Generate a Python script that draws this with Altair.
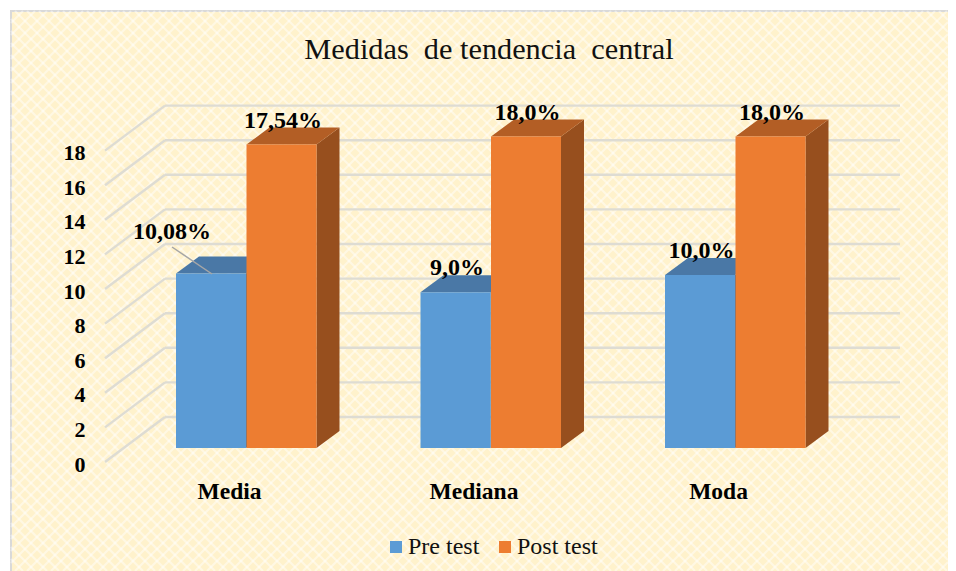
import altair as alt
import pandas as pd

# ---- values ----
categories = ["Media", "Mediana", "Moda"]
series = ["Pre test", "Post test"]
pre_test = [10.08, 9.0, 10.0]
post_test = [17.54, 18.0, 18.0]
pre_labels = ["10,08%", "9,0%", "10,0%"]
post_labels = ["17,54%", "18,0%", "18,0%"]
y_ticks = [0, 2, 4, 6, 8, 10, 12, 14, 16, 18]

# ---- layout ----
W, H = 940, 563
X0, X_STEP = 229.0, 244.5      # page px of category 0, px per category
Y0, Y_STEP = 448.0, 17.3       # page px of value 0 on the bars' front, px per unit
FONT = "Liberation Serif"
BLUE, ORANGE = "#5B9BD5", "#ED7D31"


def ux(px):
    return (px - X0) / X_STEP


def uy(py):
    return (Y0 - py) / Y_STEP


x_scale = alt.Scale(domain=[ux(8), ux(8 + W)], range=[0, W], nice=False, zero=False)
y_scale = alt.Scale(domain=[uy(8 + H), uy(8)], range=[H, 0], nice=False, zero=False)

x_axis = alt.Axis(
    values=[0, 1, 2],
    labelExpr="['" + "','".join(categories) + "'][datum.value]",
    orient="bottom",
    offset=-92,
    domain=False,
    ticks=False,
    grid=False,
    labelPadding=0,
    labelFont=FONT,
    labelFontSize=23.5,
    labelFontWeight="bold",
    labelColor="#000000",
    labelBaseline="top",
    labelAlign="center",
    zindex=1,
)
y_axis = alt.Axis(
    values=y_ticks,
    orient="left",
    offset=-77,
    domain=False,
    ticks=False,
    grid=False,
    labelPadding=0,
    labelOffset=16,
    labelFont=FONT,
    labelFontSize=22,
    labelFontWeight="bold",
    labelColor="#000000",
    zindex=1,
)


def X(f, **kw):
    return alt.X(f, scale=x_scale, title=None, axis=x_axis, **kw)


def Y(f, **kw):
    return alt.Y(f, scale=y_scale, title=None, axis=y_axis, **kw)


# 3-D projection
BAR_W = 70 / X_STEP
BAR_LEFT = {"Pre test": ux(176) - ux(229), "Post test": ux(246.5) - ux(229)}
DX, DY = 23 / X_STEP, 17 / Y_STEP           # bar depth
WALL_DX, WALL_DY = 60 / X_STEP, 45 / Y_STEP  # floor depth of the grid
WALL_BASE = uy(417)                          # value 0 on the back wall
WALL_LEFT, WALL_RIGHT = ux(165), ux(900)

# ---- tables ----
fronts, sides, tops, labels = [], [], [], []
for s, values, texts, c_top, c_side in [
    ("Pre test", pre_test, pre_labels, "#4A78A6", "#3E6C98"),
    ("Post test", post_test, post_labels, "#B35E25", "#974F1E"),
]:
    for i, v in enumerate(values):
        l = i + BAR_LEFT[s]
        r = l + BAR_W
        key = f"{s}{i}"
        fronts.append({"s": s, "l": l, "r": r, "v": v, "b": 0})
        sides.append({"k": key, "c": c_side, "x": r, "y": 0, "y2": v})
        sides.append({"k": key, "c": c_side, "x": r + DX, "y": DY, "y2": v + DY})
        tops.append({"k": key, "c": c_top, "y": v, "x": l, "x2": r})
        tops.append({"k": key, "c": c_top, "y": v + DY, "x": l + DX, "x2": r + DX})
        lx = (l + r) / 2 + 1.5 / X_STEP
        ly = v + 24 / Y_STEP
        if s == "Pre test" and i == 0:  # moved label with a leader line
            lx = ux(172)
            ly = uy(232)
        labels.append({"t": texts[i], "x": lx, "y": ly})

grid = []
for t in y_ticks:
    back = t + WALL_BASE
    grid.append({"x": WALL_LEFT, "x2": WALL_RIGHT, "y": back, "y2": back})
    grid.append({"x": WALL_LEFT - WALL_DX, "x2": WALL_LEFT, "y": back - WALL_DY, "y2": back})

# woven background texture of the chart area
lattice = []
PERIOD = 12
L, T, R, B = 11, 11, 8 + W, 8 + H
for c in range(L + T, R + B, PERIOD):
    # x + y = c
    x1 = max(L, c - B)
    x2 = min(R, c - T)
    if x2 > x1:
        lattice.append({"x": ux(x1), "y": uy(c - x1), "x2": ux(x2), "y2": uy(c - x2)})
for c in range(L - B, R - T, PERIOD):
    # x - y = c
    x1 = max(L, c + T)
    x2 = min(R, c + B)
    if x2 > x1:
        lattice.append({"x": ux(x1), "y": uy(x1 - c), "x2": ux(x2), "y2": uy(x2 - c)})

leader = [{"x": ux(172), "y": uy(247), "x2": ux(212), "y2": uy(274)}]

# ---- layers ----
panel = alt.Chart(pd.DataFrame({"a": [0]})).mark_rect(
    fill="#FFF2CC", stroke="#D9D9D9", strokeWidth=2
).encode(x=alt.value(3), x2=alt.value(W + 4), y=alt.value(3), y2=alt.value(H + 4))

tex = alt.Chart(pd.DataFrame(lattice)).mark_rule(
    color="#FFFFFF", strokeWidth=2.2, opacity=0.45
).encode(x=X("x:Q"), y=Y("y:Q"), x2="x2:Q", y2="y2:Q")

grid_l = alt.Chart(pd.DataFrame(grid)).mark_rule(
    color="#DEDCD3", strokeWidth=2.4
).encode(x=X("x:Q"), y=Y("y:Q"), x2="x2:Q", y2="y2:Q")

side_l = alt.Chart(pd.DataFrame(sides)).mark_area(interpolate="linear").encode(
    x=X("x:Q"),
    y=Y("y:Q", stack=None),
    y2="y2:Q",
    detail="k:N",
    fill=alt.Fill("c:N", scale=None),
)

top_l = alt.Chart(pd.DataFrame(tops)).mark_area(orient="horizontal", interpolate="linear").encode(
    y=Y("y:Q"),
    x=X("x:Q", stack=None),
    x2="x2:Q",
    detail="k:N",
    fill=alt.Fill("c:N", scale=None),
)

front_l = alt.Chart(pd.DataFrame(fronts)).mark_rect().encode(
    x=X("l:Q"),
    x2="r:Q",
    y=Y("b:Q"),
    y2="v:Q",
    color=alt.Color(
        "s:N",
        scale=alt.Scale(domain=series, range=[BLUE, ORANGE]),
        legend=alt.Legend(
            title=None,
            orient="none",
            legendX=376,
            legendY=527,
            direction="horizontal",
            symbolType="square",
            symbolSize=144,
            symbolStrokeWidth=0,
            labelFont=FONT,
            labelFontSize=24,
            labelColor="#111111",
            labelOffset=0,
            columnPadding=13,
            padding=0,
        ),
    ),
)

leader_l = alt.Chart(pd.DataFrame(leader)).mark_rule(
    color="#A6A6A6", strokeWidth=1.5
).encode(x=X("x:Q"), y=Y("y:Q"), x2="x2:Q", y2="y2:Q")

label_l = alt.Chart(pd.DataFrame(labels)).mark_text(
    font=FONT, fontSize=24, fontWeight="bold", color="#000000", align="center", baseline="middle"
).encode(x=X("x:Q"), y=Y("y:Q"), text="t:N")

chart = (
    alt.layer(panel, tex, grid_l, side_l, top_l, front_l, leader_l, label_l)
    .properties(
        width=W,
        height=H,
        padding=0,
        background="#FFFFFF",
        autosize=alt.AutoSizeParams(type="none"),
        title=alt.TitleParams(
            "Medidas\u00a0 de tendencia\u00a0 central",
            anchor="middle",
            font=FONT,
            fontSize=30.3,
            fontWeight="normal",
            color="#111111",
            dx=11,
            dy=57,
            offset=0,
        ),
    )
    .configure_view(stroke=None)
)

chart.save("out.html", embed_options={"renderer": "svg", "actions": False})
